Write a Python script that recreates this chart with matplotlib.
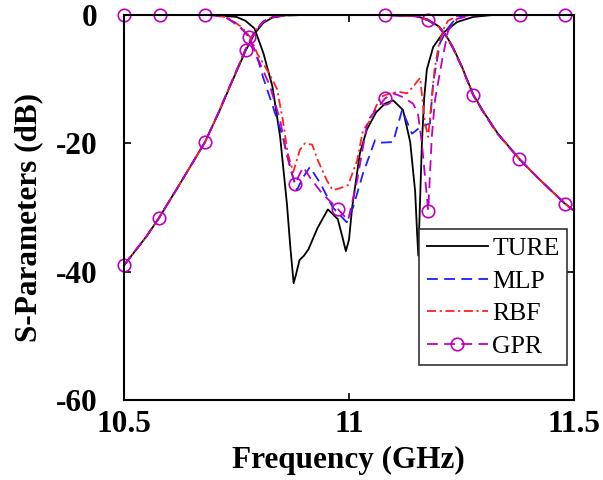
import numpy as np
import matplotlib
matplotlib.use("Agg")
import matplotlib.pyplot as plt

plt.rcParams['font.family'] = ['Liberation Serif', 'DejaVu Serif']
plt.rcParams['axes.unicode_minus'] = False

# S21 (transmission) - shared frequency grid, GHz
f21 = [10.5, 10.55, 10.578, 10.62, 10.65, 10.68, 10.71, 10.74, 10.77, 10.79, 10.81, 10.83,
       10.86, 10.9, 11.08, 11.15, 11.175, 11.2, 11.215, 11.23, 11.25, 11.276, 11.3, 11.33,
       11.378, 11.42, 11.45, 11.48, 11.5]
s21_ture = [-39.0, -34.5, -31.6, -26.8, -23.3, -19.8, -15.3, -10.4, -5.6, -2.9, -1.2, -0.4,
            -0.05, 0, 0, -0.2, -0.7, -1.8, -3.1, -4.9, -7.9, -12.4, -15.2, -18.4,
            -22.4, -25.4, -27.4, -29.4, -30.5]
s21_mlp = [-39.0, -34.5, -31.6, -26.8, -23.3, -19.8, -15.2, -10.3, -5.4, -2.6, -1.0, -0.3,
           -0.05, 0, 0, -0.2, -0.8, -1.9, -3.2, -5.0, -8.0, -12.5, -15.3, -18.5,
           -22.4, -25.4, -27.4, -29.4, -30.5]
s21_rbf = [-39.0, -34.5, -31.6, -26.8, -23.3, -19.8, -15.2, -10.3, -5.4, -2.6, -1.0, -0.3,
           -0.05, 0, 0, -0.2, -0.8, -1.9, -3.2, -5.0, -8.0, -12.5, -15.3, -18.5,
           -22.4, -25.4, -27.4, -29.4, -30.5]
s21_gpr = [-39.0, -34.5, -31.6, -26.8, -23.3, -19.8, -15.2, -10.3, -5.4, -2.6, -1.0, -0.3,
           -0.05, 0, 0, -0.2, -0.8, -1.9, -3.2, -5.0, -8.0, -12.5, -15.3, -18.5,
           -22.4, -25.4, -27.4, -29.4, -30.5]
gpr_s21_marks = [10.5, 10.578, 10.68, 10.77, 11.08, 11.175, 11.276, 11.378, 11.48]

# S11 (reflection)
f11_ture = [10.5, 10.7, 10.75, 10.77, 10.79, 10.81, 10.83, 10.847, 10.862, 10.87, 10.877,
            10.882, 10.89, 10.9, 10.91, 10.93, 10.953, 10.975, 10.985, 10.993, 11.0, 11.007,
            11.024, 11.04, 11.06, 11.08, 11.098, 11.12, 11.136, 11.147, 11.151, 11.154,
            11.162, 11.167, 11.173, 11.187, 11.209, 11.24, 11.276, 11.32, 11.5]
s11_ture = [0, 0, -0.3, -0.9, -2.1, -6.0, -11.2, -19.0, -29.4, -36.5, -41.8,
            -40.5, -38.2, -37.5, -36.5, -33.2, -30.3, -31.8, -34.5, -36.8, -35.0, -30.0,
            -21.6, -17.8, -15.2, -13.8, -13.3, -14.8, -19.8, -27.5, -33.5, -37.5,
            -20.0, -13.0, -8.5, -5.0, -2.8, -1.1, -0.3, 0, 0]

f11_mlp = [10.5, 10.7, 10.73, 10.76, 10.78, 10.8, 10.809, 10.831, 10.853, 10.869, 10.884,
           10.898, 10.913, 10.936, 10.964, 10.995, 11.009, 11.031, 11.058, 11.07, 11.098,
           11.118, 11.14, 11.158, 11.18, 11.187, 11.202, 11.217, 11.24, 11.27, 11.5]
s11_mlp = [0, 0, -0.5, -2.0, -3.6, -7.5, -9.7, -14.3, -19.0, -23.7, -27.3,
           -25.3, -23.7, -26.2, -30.0, -32.3, -30.0, -24.7, -19.5, -19.9, -19.8,
           -14.8, -18.5, -17.5, -16.9, -10.6, -4.4, -2.3, -0.3, 0, 0]

f11_rbf = [10.5, 10.7, 10.73, 10.76, 10.78, 10.796, 10.82, 10.84, 10.853, 10.864, 10.876,
           10.891, 10.902, 10.918, 10.931, 10.951, 10.964, 10.98, 10.998, 11.018, 11.031,
           11.047, 11.069, 11.091, 11.113, 11.129, 11.142, 11.158, 11.169, 11.176, 11.19,
           11.2, 11.21, 11.22, 11.24, 11.27, 11.5]
s11_rbf = [0, 0, -0.4, -1.8, -3.4, -6.0, -8.8, -11.5, -16.4, -21.6, -24.5,
           -21.0, -20.0, -20.2, -22.7, -25.8, -27.3, -27.0, -26.5, -22.7, -18.0,
           -16.4, -12.8, -12.2, -12.0, -12.2, -11.2, -9.8, -16.9, -19.0, -8.5,
           -4.5, -2.2, -0.9, -0.2, 0, 0]

f11_gpr = [10.5, 10.58, 10.68, 10.72, 10.75, 10.778, 10.8, 10.824, 10.847, 10.858, 10.873,
           10.88, 10.898, 10.913, 10.94, 10.975, 10.998, 11.018, 11.031, 11.042, 11.08,
           11.098, 11.12, 11.142, 11.153, 11.162, 11.169, 11.176, 11.184, 11.191, 11.207,
           11.22, 11.24, 11.27, 11.3, 11.38, 11.48, 11.5]
s11_gpr = [0, 0, 0, -0.2, -1.3, -3.4, -7.2, -11.0, -16.4, -20.6, -24.7,
           -26.3, -23.7, -25.3, -27.8, -30.2, -32.0, -25.8, -20.6, -16.4, -13.0,
           -12.2, -12.8, -13.8, -15.3, -20.0, -25.3, -30.5, -19.0, -13.3, -7.0,
           -2.5, -0.6, -0.1, 0, 0, 0, 0]
gpr_s11_marks = [10.5, 10.58, 10.68, 10.778, 10.88, 10.975, 11.08, 11.176, 11.38, 11.48]

xticks = [10.5, 11, 11.5]
xticklabels = ['10.5', '11', '11.5']
yticks = [0, -20, -40, -60]

fig = plt.figure(figsize=(6.03, 4.8), dpi=100)
ax = fig.add_axes([124 / 603, 80 / 480, 450 / 603, 385 / 480])

lw = 1.3
blk = dict(color='black', lw=lw, clip_on=False)
blu = dict(color='#1f1fff', lw=lw, ls=(0, (6, 3.5)), clip_on=False)
red = dict(color='#ff2020', lw=lw, ls=(0, (5, 2, 1.2, 2)), clip_on=False)
mag = dict(color='#c000c0', lw=lw, ls=(0, (6, 3.5)), marker='o', ms=9,
           mfc='none', mec='#c000c0', mew=1.2, clip_on=False)

ax.plot(f11_ture, s11_ture, label='TURE', **blk)
ax.plot(f21, s21_ture, **blk)
ax.plot(f11_mlp, s11_mlp, label='MLP', **blu)
ax.plot(f21, s21_mlp, **blu)
ax.plot(f11_rbf, s11_rbf, label='RBF', **red)
ax.plot(f21, s21_rbf, **red)
ax.plot(f11_gpr, s11_gpr, markevery=[f11_gpr.index(m) for m in gpr_s11_marks],
        label='GPR', **mag)
ax.plot(f21, s21_gpr, markevery=[f21.index(m) for m in gpr_s21_marks], **mag)

ax.set_xlim(10.5, 11.5)
ax.set_ylim(-60, 0)
ax.set_xticks(xticks)
ax.set_xticklabels(xticklabels)
ax.set_yticks(yticks)
for s in ax.spines.values():
    s.set_linewidth(1.5)
ax.tick_params(direction='in', length=5, width=1.2, top=True, right=True,
               labelsize=22.5)
ax.tick_params(axis='y', pad=19)
ax.tick_params(axis='x', pad=7)
for t in ax.get_xticklabels() + ax.get_yticklabels():
    t.set_fontweight('bold')

ax.set_xlabel('Frequency (GHz)', fontsize=22.5, fontweight='bold')
ax.set_ylabel('S-Parameters (dB)', fontsize=22.5, fontweight='bold')
ax.xaxis.set_label_coords(0.498, -0.12)
ax.yaxis.set_label_coords(-0.18, 0.473)

leg = ax.legend(loc='lower right', bbox_to_anchor=(0.985, 0.09), fontsize=18.5,
                frameon=True, fancybox=False, edgecolor='#333333', framealpha=1,
                handlelength=2.4, handletextpad=0.15, labelspacing=0.37,
                borderpad=0.3, borderaxespad=0)
leg.get_frame().set_linewidth(1.2)

fig.savefig('out.png', dpi=100)
